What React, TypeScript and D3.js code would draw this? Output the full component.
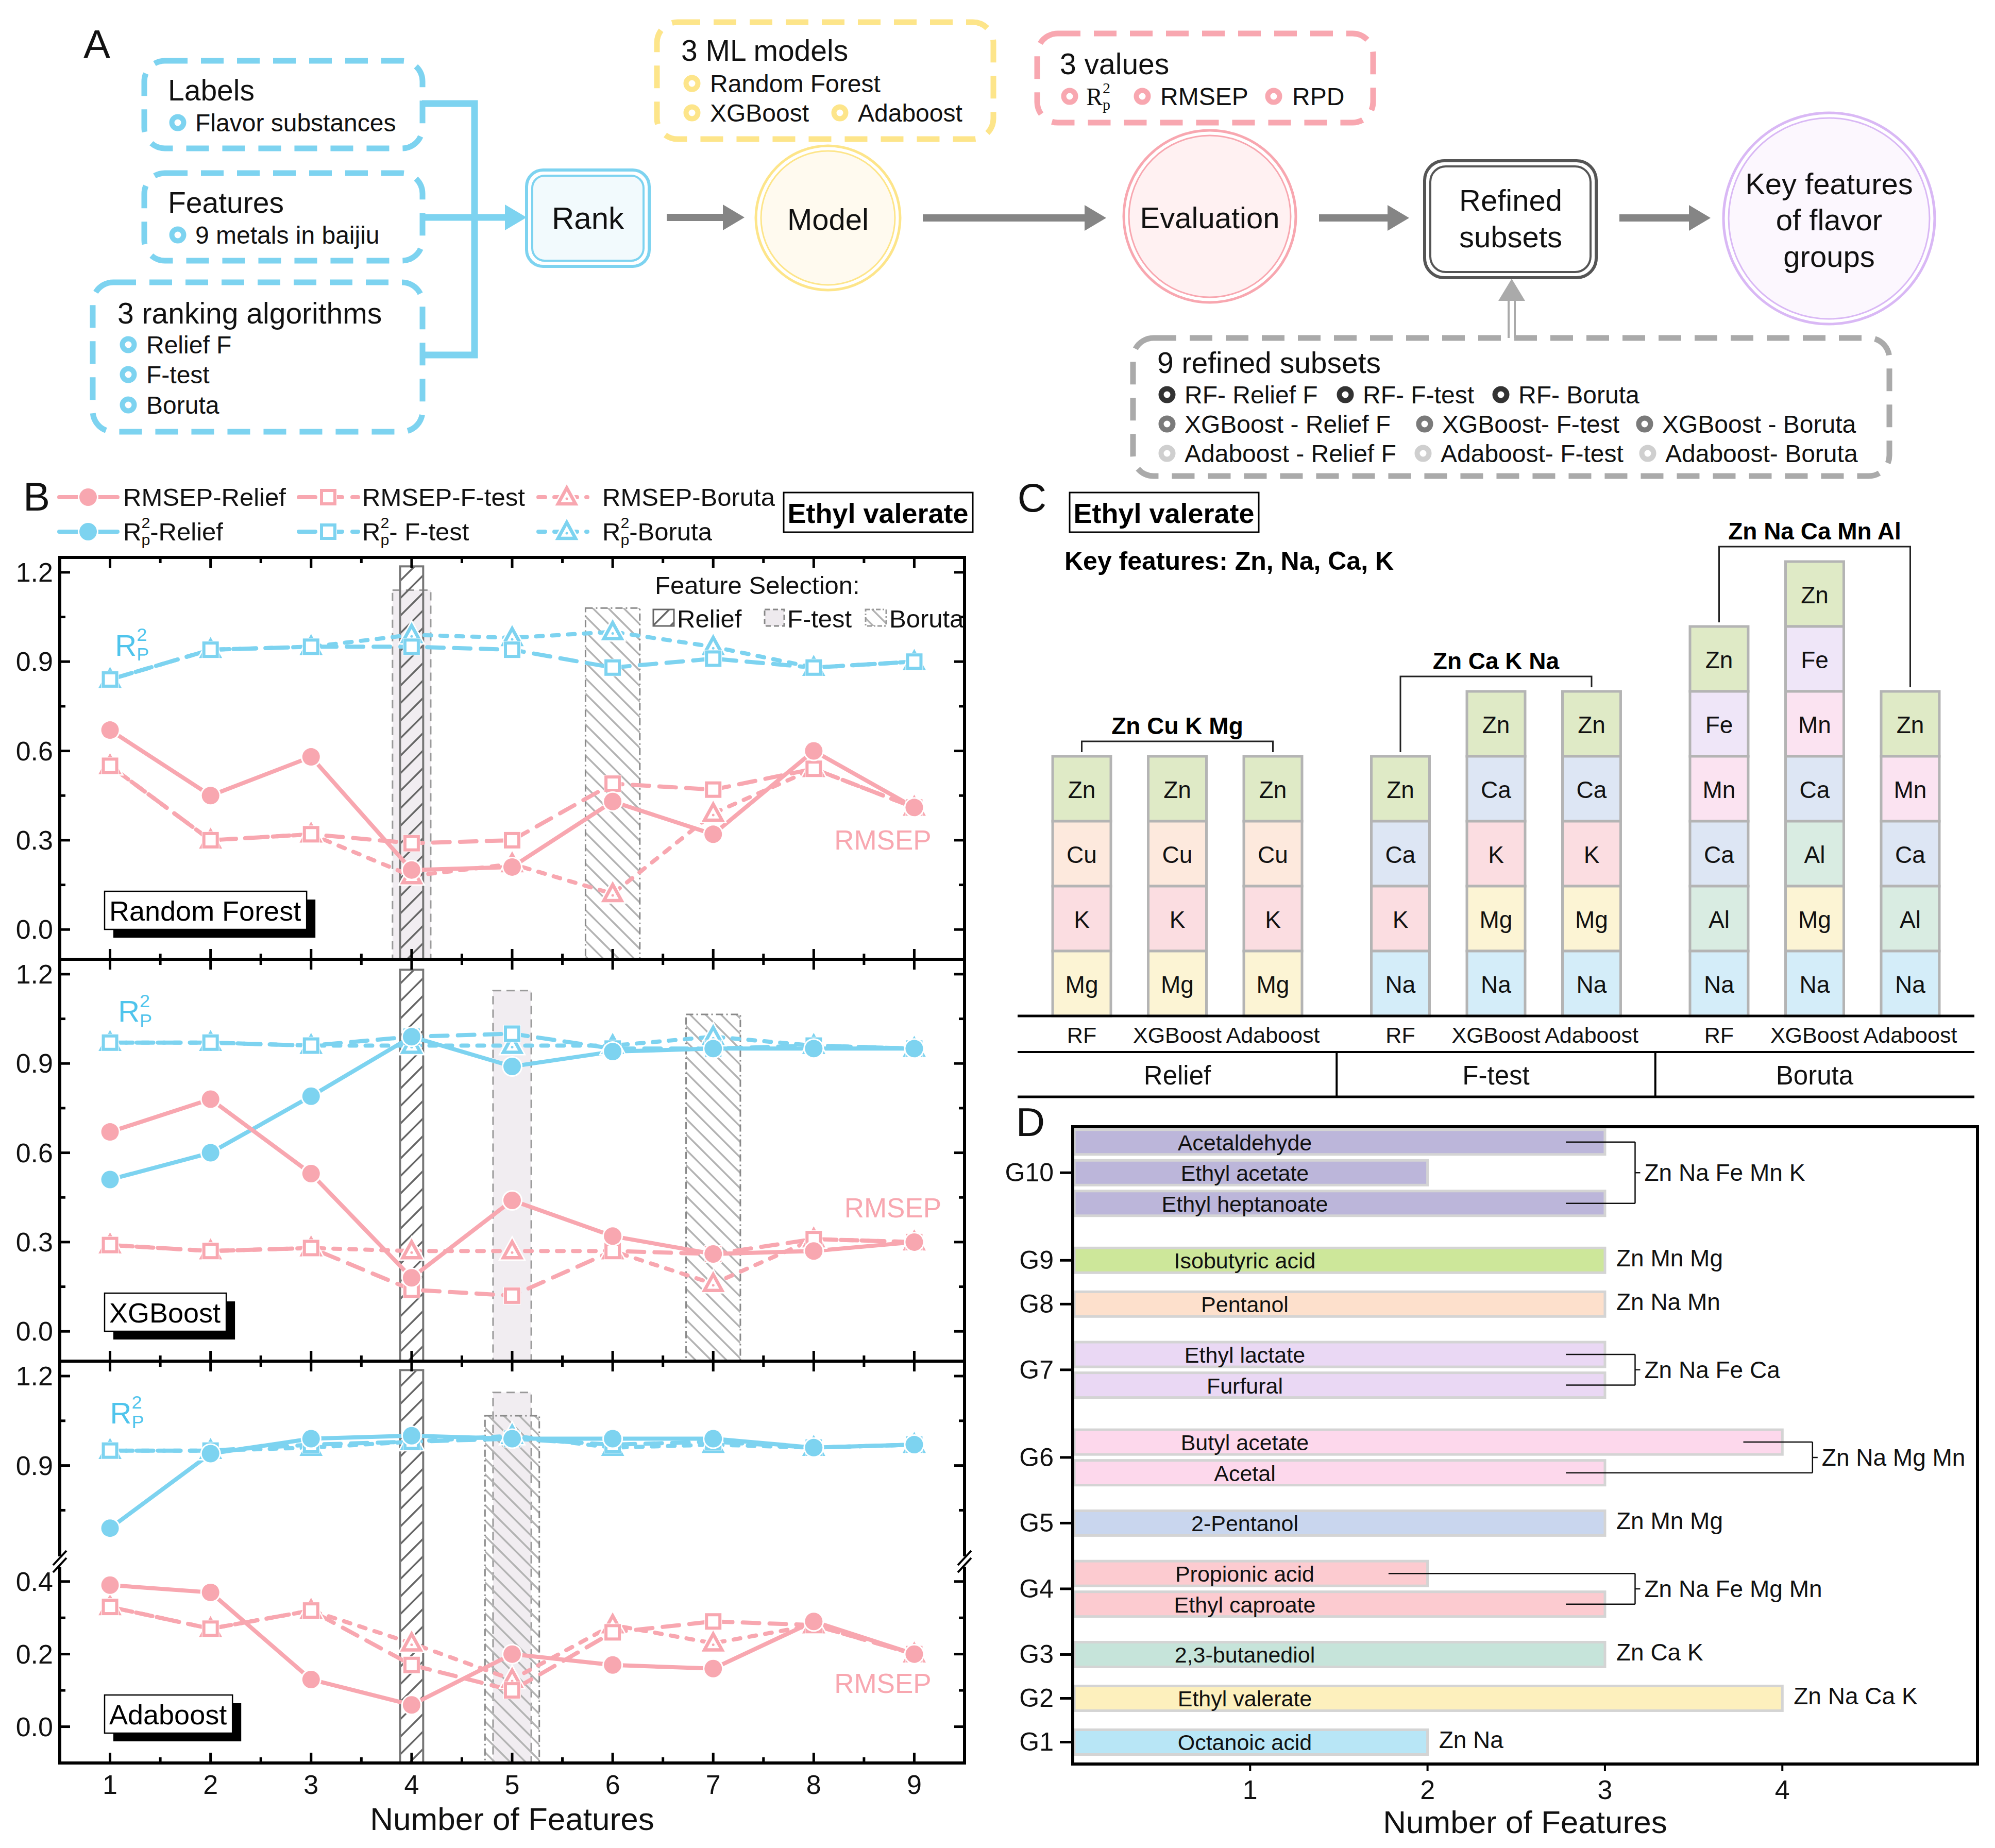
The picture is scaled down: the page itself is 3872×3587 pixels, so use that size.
import { useEffect, useRef } from "react";
import * as d3 from "d3";

const W = 3872;
const H = 3587;
const FONT = "'Liberation Sans', Arial, Helvetica, sans-serif";
const BLUE = "#7dd3f0";
const PINK = "#f8a7b0";
const LABEL_BLUE = "#4fc4ec";
const YELLOW = "#fde58a";
const PURPLE = "#d9b8f5";

// ── B: model performance vs. number of features ─────────────
const featureCounts = [1, 2, 3, 4, 5, 6, 7, 8, 9];
const modelNames = ["Random Forest", "XGBoost", "Adaboost"];
const rankers = ["Relief", "F-test", "Boruta"];

const rfRmsepRelief = [0.67, 0.45, 0.58, 0.2, 0.21, 0.43, 0.32, 0.6, 0.41];
const rfRmsepFtest = [0.55, 0.3, 0.32, 0.29, 0.3, 0.49, 0.47, 0.54, 0.41];
const rfRmsepBoruta = [0.55, 0.3, 0.32, 0.18, 0.22, 0.12, 0.39, 0.54, 0.41];
const rfR2Relief: number[] = []; // not drawn in the RF panel of the source
const rfR2Ftest = [0.84, 0.94, 0.95, 0.95, 0.94, 0.88, 0.91, 0.88, 0.9];
const rfR2Boruta = [0.84, 0.94, 0.95, 0.99, 0.98, 1.0, 0.95, 0.88, 0.9];

const xgbRmsepRelief = [0.67, 0.78, 0.53, 0.18, 0.44, 0.32, 0.26, 0.27, 0.3];
const xgbRmsepFtest = [0.29, 0.27, 0.28, 0.14, 0.12, 0.27, 0.26, 0.31, 0.3];
const xgbRmsepBoruta = [0.29, 0.27, 0.28, 0.27, 0.27, 0.27, 0.16, 0.31, 0.3];
const xgbR2Relief = [0.51, 0.6, 0.79, 0.99, 0.89, 0.94, 0.95, 0.95, 0.95];
const xgbR2Ftest = [0.97, 0.97, 0.96, 0.99, 1.0, 0.95, 0.95, 0.96, 0.95];
const xgbR2Boruta = [0.97, 0.97, 0.96, 0.96, 0.96, 0.96, 0.99, 0.96, 0.95];

const adaRmsepRelief = [0.39, 0.37, 0.13, 0.06, 0.2, 0.17, 0.16, 0.29, 0.2];
const adaRmsepFtest = [0.33, 0.27, 0.32, 0.17, 0.1, 0.26, 0.29, 0.28, 0.2];
const adaRmsepBoruta = [0.33, 0.27, 0.32, 0.23, 0.13, 0.28, 0.23, 0.28, 0.2];
const adaR2Relief = [0.69, 0.94, 0.99, 1.0, 0.99, 0.99, 0.99, 0.96, 0.97];
const adaR2Ftest = [0.95, 0.95, 0.97, 0.98, 0.99, 0.97, 0.98, 0.96, 0.97];
const adaR2Boruta = [0.95, 0.95, 0.96, 0.98, 1.0, 0.96, 0.97, 0.96, 0.97];

// subset size picked by each ranking (Relief, F-test, Boruta) + height of its band
const rfPicked = [4, 4, 6];
const xgbPicked = [4, 5, 7];
const adaPicked = [4, 5, 5];
const rfPickTop = [1.22, 1.14, 1.08];
const xgbPickTop = [1.215, 1.145, 1.065];
const adaPickTop = [1.22, 1.145, 1.067];

// ── C: refined subsets (listed top → bottom) ─────────────────
const modelShort = ["RF", "XGBoost", "Adaboost"];
const reliefSubsets = [["Zn", "Cu", "K", "Mg"], ["Zn", "Cu", "K", "Mg"], ["Zn", "Cu", "K", "Mg"]];
const ftestSubsets = [["Zn", "Ca", "K", "Na"], ["Zn", "Ca", "K", "Mg", "Na"], ["Zn", "Ca", "K", "Mg", "Na"]];
const borutaSubsets = [
  ["Zn", "Fe", "Mn", "Ca", "Al", "Na"],
  ["Zn", "Fe", "Mn", "Ca", "Al", "Mg", "Na"],
  ["Zn", "Mn", "Ca", "Al", "Na"],
];
const consensus = ["Zn Cu K Mg", "Zn Ca K Na", "Zn Na Ca Mn Al"];

// ── D: key features of flavour groups (G1 → G10) ─────────────
const groupNames = ["G1", "G2", "G3", "G4", "G5", "G6", "G7", "G8", "G9", "G10"];
const groupMembers = [
  ["Octanoic acid"],
  ["Ethyl valerate"],
  ["2,3-butanediol"],
  ["Propionic acid", "Ethyl caproate"],
  ["2-Pentanol"],
  ["Butyl acetate", "Acetal"],
  ["Ethyl lactate", "Furfural"],
  ["Pentanol"],
  ["Isobutyric acid"],
  ["Acetaldehyde", "Ethyl acetate", "Ethyl heptanoate"],
];
const groupCounts = [[2], [4], [3], [2, 3], [3], [4, 3], [3, 3], [3], [3], [3, 2, 3]];
const groupFeatures = [
  "Zn Na", "Zn Na Ca K", "Zn Ca K", "Zn Na Fe Mg Mn", "Zn Mn Mg",
  "Zn Na Mg Mn", "Zn Na Fe Ca", "Zn Na Mn", "Zn Mn Mg", "Zn Na Fe Mn K",
];

const elementColor: Record<string, string> = {
  Zn: "#dfeac6", Cu: "#fde9dd", K: "#fbdde1", Mg: "#fcf4d4", Ca: "#dde6f4",
  Na: "#d4edf9", Fe: "#efe6f8", Mn: "#fbe3f1", Al: "#d9ece2",
};
const groupColor = [
  "#b8e6f6", "#fdf0bd", "#c6e4da", "#fccbd0", "#c9d6ee",
  "#fdd8ec", "#ead8f4", "#fde0cc", "#cde79a", "#bcb6da",
];

type Sel = d3.Selection<any, unknown, null, undefined>;

function txt(g: Sel, x: number, y: number, s: string, size: number, anchor = "start", weight = "normal", fill = "#111") {
  return g.append("text")
    .attr("x", x).attr("y", y)
    .attr("font-size", size)
    .attr("text-anchor", anchor)
    .attr("dominant-baseline", "central")
    .attr("font-weight", weight)
    .attr("fill", fill)
    .text(s);
}

// R with stacked ² and subscript p
function r2(g: Sel, x: number, y: number, size: number, fill: string, sub: string, rest = "") {
  const t = g.append("text")
    .attr("x", x).attr("y", y)
    .attr("font-size", size)
    .attr("dominant-baseline", "central")
    .attr("fill", fill);
  const s = size * 0.62;
  t.append("tspan").text("R");
  t.append("tspan").attr("font-size", s).attr("dy", -size * 0.36).text("2");
  t.append("tspan").attr("font-size", s).attr("dx", -s * 0.556).attr("dy", size * 0.66).text(sub);
  if (rest) t.append("tspan").attr("dy", -size * 0.3).text(rest);
  return t;
}

function ring(g: Sel, x: number, y: number, color: string) {
  g.append("circle").attr("cx", x).attr("cy", y).attr("r", 11.5)
    .attr("fill", "none").attr("stroke", color).attr("stroke-width", 10);
}

function dashedBox(g: Sel, x: number, y: number, w: number, h: number, color: string) {
  g.append("rect").attr("x", x).attr("y", y).attr("width", w).attr("height", h)
    .attr("rx", 40).attr("fill", "none")
    .attr("stroke", color).attr("stroke-width", 11)
    .attr("stroke-dasharray", "44,26");
}

function greyArrow(g: Sel, x1: number, x2: number, y: number) {
  g.append("line").attr("x1", x1).attr("x2", x2 - 38).attr("y1", y).attr("y2", y)
    .attr("stroke", "#858585").attr("stroke-width", 14);
  g.append("path")
    .attr("d", `M${x2 - 42},${y - 25} L${x2},${y} L${x2 - 42},${y + 25} Z`)
    .attr("fill", "#858585");
}

function doubleCircle(g: Sel, cx: number, cy: number, r: number, color: string, fill: string) {
  g.append("circle").attr("cx", cx).attr("cy", cy).attr("r", r)
    .attr("fill", "none").attr("stroke", color).attr("stroke-width", 5);
  g.append("circle").attr("cx", cx).attr("cy", cy).attr("r", r - 10)
    .attr("fill", fill).attr("stroke", color).attr("stroke-width", 3);
}

function drawA(g: Sel) {
  txt(g, 188, 86, "A", 78, "middle");

  // inputs
  dashedBox(g, 280, 118, 540, 170, BLUE);
  txt(g, 326, 175, "Labels", 57);
  ring(g, 345, 238, BLUE);
  txt(g, 379, 238, "Flavor substances", 48);

  dashedBox(g, 280, 336, 540, 170, BLUE);
  txt(g, 326, 393, "Features", 57);
  ring(g, 345, 456, BLUE);
  txt(g, 379, 456, "9 metals in baijiu", 48);

  dashedBox(g, 180, 548, 640, 290, BLUE);
  txt(g, 228, 608, "3 ranking algorithms", 57);
  ["Relief F", "F-test", "Boruta"].forEach((s, i) => {
    const y = [669, 727, 786][i];
    ring(g, 249, y, BLUE);
    txt(g, 284, y, s, 48);
  });

  // bracket into Rank
  g.append("path")
    .attr("d", "M819,201 H921 V689 H819 M819,422 H990")
    .attr("fill", "none").attr("stroke", BLUE).attr("stroke-width", 13);
  g.append("path").attr("d", "M980,397 L1022,422 L980,447 Z").attr("fill", BLUE);

  // Rank box
  g.append("rect").attr("x", 1022).attr("y", 330).attr("width", 238).attr("height", 187).attr("rx", 32)
    .attr("fill", "none").attr("stroke", BLUE).attr("stroke-width", 6);
  g.append("rect").attr("x", 1033).attr("y", 341).attr("width", 216).attr("height", 165).attr("rx", 24)
    .attr("fill", "#f2fafd").attr("stroke", BLUE).attr("stroke-width", 4);
  txt(g, 1141, 423, "Rank", 60, "middle");

  greyArrow(g, 1294, 1445, 422);

  // Model
  dashedBox(g, 1275, 43, 653, 227, YELLOW);
  txt(g, 1322, 98, "3 ML models", 57);
  ring(g, 1343, 162, YELLOW);
  txt(g, 1378, 162, "Random Forest", 48);
  ring(g, 1343, 219, YELLOW);
  txt(g, 1378, 219, "XGBoost", 48);
  ring(g, 1630, 219, YELLOW);
  txt(g, 1665, 219, "Adaboost", 48);
  doubleCircle(g, 1607, 423, 140, YELLOW, "#fffaef");
  txt(g, 1607, 425, "Model", 58, "middle");

  greyArrow(g, 1791, 2147, 423);

  // Evaluation
  dashedBox(g, 2013, 65, 652, 173, PINK);
  txt(g, 2057, 124, "3 values", 57);
  ring(g, 2076, 187, PINK);
  const rp = g.append("text").attr("x", 2108).attr("y", 187).attr("font-size", 48)
    .attr("dominant-baseline", "central").attr("font-family", "'Liberation Serif', serif").attr("fill", "#111");
  rp.append("tspan").text("R");
  rp.append("tspan").attr("font-size", 30).attr("dy", -17).text("2");
  rp.append("tspan").attr("font-size", 30).attr("dx", -15).attr("dy", 32).text("p");
  ring(g, 2217, 187, PINK);
  txt(g, 2252, 187, "RMSEP", 48);
  ring(g, 2472, 187, PINK);
  txt(g, 2508, 187, "RPD", 48);
  doubleCircle(g, 2348, 420, 167, PINK, "#fff1f2");
  txt(g, 2348, 422, "Evaluation", 58, "middle");

  greyArrow(g, 2560, 2735, 423);

  // Refined subsets
  g.append("rect").attr("x", 2765).attr("y", 312).attr("width", 333).attr("height", 227).attr("rx", 38)
    .attr("fill", "none").attr("stroke", "#555").attr("stroke-width", 6);
  g.append("rect").attr("x", 2776).attr("y", 323).attr("width", 311).attr("height", 205).attr("rx", 30)
    .attr("fill", "#fff").attr("stroke", "#555").attr("stroke-width", 4);
  txt(g, 2932, 388, "Refined", 58, "middle");
  txt(g, 2932, 459, "subsets", 58, "middle");

  greyArrow(g, 3143, 3320, 423);

  doubleCircle(g, 3550, 424, 205, PURPLE, "#fcf7fe");
  txt(g, 3550, 356, "Key features", 58, "middle");
  txt(g, 3550, 426, "of flavor", 58, "middle");
  txt(g, 3550, 497, "groups", 58, "middle");

  // hollow upward arrow from the 9 subsets box
  g.append("path").attr("d", "M2928,656 V580 M2940,656 V580")
    .attr("stroke", "#aaa").attr("stroke-width", 4).attr("fill", "none");
  g.append("path").attr("d", "M2908,584 L2934,541 L2960,584 Z").attr("fill", "#aaa");

  dashedBox(g, 2199, 656, 1468, 268, "#aaa");
  txt(g, 2246, 704, "9 refined subsets", 57);
  const rows = [
    { c: "#333", items: [["RF- Relief F", 2265], ["RF- F-test", 2611], ["RF- Boruta", 2913]] },
    { c: "#7a7a7a", items: [["XGBoost - Relief F", 2265], ["XGBoost- F-test", 2765], ["XGBoost - Boruta", 3192]] },
    { c: "#cfcfcf", items: [["Adaboost - Relief F", 2265], ["Adaboost- F-test", 2762], ["Adaboost- Boruta", 3198]] },
  ];
  rows.forEach((row, i) => {
    const y = 766 + i * 57;
    row.items.forEach(([s, x]) => {
      ring(g, x as number, y, row.c);
      txt(g, (x as number) + 34, y, s as string, 48);
    });
  });
}

function marker(g: Sel, kind: number, x: number, y: number, color: string) {
  if (kind === 0) {
    g.append("circle").attr("cx", x).attr("cy", y).attr("r", 20).attr("fill", "#fff");
    g.append("circle").attr("cx", x).attr("cy", y).attr("r", 17).attr("fill", color);
  } else if (kind === 1) {
    g.append("rect").attr("x", x - 17).attr("y", y - 17).attr("width", 34).attr("height", 34).attr("fill", "#fff");
    g.append("rect").attr("x", x - 13).attr("y", y - 13).attr("width", 26).attr("height", 26)
      .attr("fill", "#fff").attr("stroke", color).attr("stroke-width", 6);
  } else {
    const d = `M${x},${y - 18} L${x + 17},${y + 13} L${x - 17},${y + 13} Z`;
    g.append("path").attr("d", d).attr("fill", "#fff").attr("stroke", "#fff").attr("stroke-width", 12);
    g.append("path").attr("d", d).attr("fill", "#fff").attr("stroke", color).attr("stroke-width", 6.5);
    g.append("circle").attr("cx", x).attr("cy", y + 3).attr("r", 2.5).attr("fill", color);
  }
}

const dashes = [null, "32,20", "13,18"];
const LW = 8;

function drawB(g: Sel, defs: Sel) {
  // hatch patterns
  const pr = defs.append("pattern").attr("id", "hatchRelief").attr("patternUnits", "userSpaceOnUse")
    .attr("width", 34).attr("height", 34);
  pr.append("path").attr("d", "M0,34 L34,0 M-8,8 L8,-8 M26,42 L42,26")
    .attr("stroke", "#666").attr("stroke-width", 3.5);
  const pb = defs.append("pattern").attr("id", "hatchBoruta").attr("patternUnits", "userSpaceOnUse")
    .attr("width", 30).attr("height", 30);
  pb.append("path").attr("d", "M0,0 L30,30 M-8,22 L8,38 M22,-8 L38,8")
    .attr("stroke", "#b3b3b3").attr("stroke-width", 3.5);

  txt(g, 71, 964, "B", 78, "middle");

  // legend
  const legX = [[115, 228, 171, 239], [580, 695, 637, 703], [1045, 1140, 1100, 1169]];
  [PINK, BLUE].forEach((color, row) => {
    const y = 965 + row * 67;
    rankers.forEach((r, k) => {
      const [x1, x2, xm, xt] = legX[k];
      const ln = g.append("line").attr("x1", x1).attr("x2", x2).attr("y1", y).attr("y2", y)
        .attr("stroke", color).attr("stroke-width", LW).attr("stroke-linecap", "round");
      if (dashes[k]) ln.attr("stroke-dasharray", dashes[k]!);
      marker(g, k, xm, y, color);
      if (row === 0) txt(g, xt, y, `RMSEP-${r}`, 49);
      else r2(g, xt, y, 49, "#111", "p", k === 1 ? "- F-test" : `-${r}`);
    });
  });
  g.append("rect").attr("x", 1521).attr("y", 956).attr("width", 367).attr("height", 77)
    .attr("fill", "#fff").attr("stroke", "#000").attr("stroke-width", 3);
  txt(g, 1704, 996, "Ethyl valerate", 54, "middle", "bold", "#000");

  const x = d3.scaleLinear().domain([0.5, 9.5]).range([116, 1872]);
  const panels = [
    { rmsep: [rfRmsepRelief, rfRmsepFtest, rfRmsepBoruta], r2v: [rfR2Relief, rfR2Ftest, rfR2Boruta], picked: rfPicked, top: rfPickTop },
    { rmsep: [xgbRmsepRelief, xgbRmsepFtest, xgbRmsepBoruta], r2v: [xgbR2Relief, xgbR2Ftest, xgbR2Boruta], picked: xgbPicked, top: xgbPickTop },
    { rmsep: [adaRmsepRelief, adaRmsepFtest, adaRmsepBoruta], r2v: [adaR2Relief, adaR2Ftest, adaR2Boruta], picked: adaPicked, top: adaPickTop },
  ];
  const r2Pos = [[1.05, 0.925], [1.08, 1.045], [1.0, 1.047]];
  const rmsepPos = [[9.17, 0.3], [9.27, 0.415], [9.17, 0.12]];
  const halfW = [0.115, 0.19, 0.27];
  const PH = 780;

  panels.forEach((p, i) => {
    const top = 1082 + i * PH;
    const bottom = top + PH;
    const brk = top + 389;
    const y = i < 2
      ? d3.scaleLinear().domain([-0.1, 1.25]).range([bottom, top])
      : d3.scaleLinear().domain([-0.1, 0.455, 0.578, 1.25]).range([bottom, brk, brk, top]);
    const major = i < 2 ? [0, 0.3, 0.6, 0.9, 1.2] : [0, 0.2, 0.4, 0.9, 1.2];
    const minor = i < 2 ? [0.15, 0.45, 0.75, 1.05] : [0.1, 0.3, 0.75, 1.05];
    const pg = g.append("g");

    // selection bands: F-test (light fill), Relief (/ hatch), Boruta (\ hatch)
    [1, 0, 2].forEach((k) => {
      const f = p.picked[k];
      const rect = pg.append("rect")
        .attr("x", x(f - halfW[k])).attr("width", x(f + halfW[k]) - x(f - halfW[k]))
        .attr("y", y(p.top[k])).attr("height", bottom - y(p.top[k]));
      if (k === 0) rect.attr("fill", "url(#hatchRelief)").attr("stroke", "#777").attr("stroke-width", 4);
      if (k === 1) rect.attr("fill", "#f1edf1").attr("stroke", "#9a9a9a").attr("stroke-width", 3).attr("stroke-dasharray", "16,10");
      if (k === 2) rect.attr("fill", "url(#hatchBoruta)").attr("stroke", "#8a8a8a").attr("stroke-width", 3).attr("stroke-dasharray", "14,6,3,6");
    });

    // lines then markers
    const line = d3.line<number>().x((_, j) => x(featureCounts[j])).y((v) => y(v));
    const series: { vals: number[]; k: number; color: string }[] = [];
    [2, 1, 0].forEach((k) => series.push({ vals: p.r2v[k], k, color: BLUE }));
    [2, 1, 0].forEach((k) => series.push({ vals: p.rmsep[k], k, color: PINK }));
    series.forEach((s) => {
      if (!s.vals.length) return;
      const path = pg.append("path").attr("d", line(s.vals)!).attr("fill", "none")
        .attr("stroke", s.color).attr("stroke-width", LW).attr("stroke-linecap", "round").attr("stroke-linejoin", "round");
      if (dashes[s.k]) path.attr("stroke-dasharray", dashes[s.k]!);
    });
    series.forEach((s) => s.vals.forEach((v, j) => marker(pg, s.k, x(featureCounts[j]), y(v), s.color)));

    // labels inside panel
    r2(pg, x(r2Pos[i][0]), y(r2Pos[i][1]) - 18, 58, LABEL_BLUE, "P");
    txt(pg, x(rmsepPos[i][0]), y(rmsepPos[i][1]), "RMSEP", 53, "end", "normal", PINK);

    // model name tag with shadow
    const tagY = top + 648;
    const sh = pg.append("rect").attr("x", 220).attr("y", tagY + 16).attr("height", 74).attr("fill", "#000");
    const bx = pg.append("rect").attr("x", 203).attr("y", tagY).attr("height", 74)
      .attr("fill", "#fff").attr("stroke", "#000").attr("stroke-width", 2.5);
    const t = txt(pg, 212, tagY + 38, modelNames[i], 54, "start", "normal", "#000");
    const tw = (t.node() as SVGTextElement).getComputedTextLength() || 370;
    bx.attr("width", tw + 20);
    sh.attr("width", tw + 20);

    // frame
    pg.append("rect").attr("x", 116).attr("y", top).attr("width", 1756).attr("height", PH)
      .attr("fill", "none").attr("stroke", "#000").attr("stroke-width", 6);

    // x ticks on top and bottom (inward)
    const xt = pg.append("g").attr("stroke", "#000").attr("stroke-width", 5);
    d3.range(1, 9.01, 0.5).forEach((v) => {
      const len = Number.isInteger(v) ? 20 : 11;
      xt.append("line").attr("x1", x(v)).attr("x2", x(v)).attr("y1", top).attr("y2", top + len);
      xt.append("line").attr("x1", x(v)).attr("x2", x(v)).attr("y1", bottom).attr("y2", bottom - len);
    });
    // y ticks left and right (inward)
    major.concat(minor).forEach((v) => {
      const len = major.includes(v) ? 20 : 11;
      xt.append("line").attr("x1", 116).attr("x2", 116 + len).attr("y1", y(v)).attr("y2", y(v));
      xt.append("line").attr("x1", 1872).attr("x2", 1872 - len).attr("y1", y(v)).attr("y2", y(v));
    });
    major.forEach((v) => txt(pg, 103, y(v), d3.format(".1f")(v), 52, "end"));

    if (i === 2) {
      // axis break marks
      [116, 1872].forEach((bxp) => {
        pg.append("rect").attr("x", bxp - 6).attr("y", brk - 10).attr("width", 12).attr("height", 20).attr("fill", "#fff");
        [-7, 7].forEach((o) => pg.append("line")
          .attr("x1", bxp - 13).attr("y1", brk + o + 14).attr("x2", bxp + 13).attr("y2", brk + o - 14)
          .attr("stroke", "#000").attr("stroke-width", 4));
      });
    }

    if (i === 0) {
      // feature selection key
      txt(pg, 1271, 1136, "Feature Selection:", 49);
      pg.append("rect").attr("x", 1268).attr("y", 1183).attr("width", 40).attr("height", 32)
        .attr("fill", "url(#hatchRelief)").attr("stroke", "#666").attr("stroke-width", 3);
      txt(pg, 1314, 1201, "Relief", 49);
      pg.append("rect").attr("x", 1484).attr("y", 1183).attr("width", 38).attr("height", 32)
        .attr("fill", "#eeeaee").attr("stroke", "#888").attr("stroke-width", 3).attr("stroke-dasharray", "10,6");
      txt(pg, 1528, 1201, "F-test", 49);
      pg.append("rect").attr("x", 1680).attr("y", 1183).attr("width", 40).attr("height", 32)
        .attr("fill", "url(#hatchBoruta)").attr("stroke", "#999").attr("stroke-width", 3).attr("stroke-dasharray", "9,4,3,4");
      txt(pg, 1726, 1201, "Boruta", 49);
    }
  });

  featureCounts.forEach((f) => txt(g, x(f), 3464, String(f), 52, "middle"));
  txt(g, 994, 3530, "Number of Features", 62, "middle");
}

function drawC(g: Sel) {
  txt(g, 2003, 966, "C", 78, "middle");
  g.append("rect").attr("x", 2076).attr("y", 956).attr("width", 367).attr("height", 77)
    .attr("fill", "#fff").attr("stroke", "#000").attr("stroke-width", 3);
  txt(g, 2259, 996, "Ethyl valerate", 54, "middle", "bold", "#000");
  txt(g, 2066, 1089, "Key features: Zn, Na, Ca, K", 50, "start", "bold", "#000");

  const outer = d3.scaleBand<string>().domain(rankers).range([1975, 3832]).paddingInner(0.2175).paddingOuter(0.11);
  const inner = d3.scaleBand<string>().domain(modelShort).range([0, outer.bandwidth()]).paddingInner(0.391).paddingOuter(0);
  const yC = d3.scaleLinear().domain([0, 1]).range([1972, 1846]);
  const subsets = [reliefSubsets, ftestSubsets, borutaSubsets];

  subsets.forEach((grp, gi) => {
    const ox = outer(rankers[gi])!;
    const tops: number[] = [];
    const centers: number[] = [];
    grp.forEach((stack, mi) => {
      const cx = ox + inner(modelShort[mi])!;
      const bw = inner.bandwidth();
      const n = stack.length;
      stack.forEach((el, si) => {
        const level = n - si; // top element sits highest
        const y0 = yC(level);
        g.append("rect").attr("x", cx).attr("y", y0).attr("width", bw).attr("height", yC(level - 1) - y0)
          .attr("fill", elementColor[el]).attr("stroke", "#b4b4b4").attr("stroke-width", 5);
        txt(g, cx + bw / 2, (y0 + yC(level - 1)) / 2 + 2, el, 46, "middle");
      });
      tops.push(yC(n));
      centers.push(cx + bw / 2);
      txt(g, cx + bw / 2, 2009, modelShort[mi], 43, "middle");
    });
    const by = Math.min(...tops) - 29;
    g.append("path")
      .attr("d", `M${centers[0]},${tops[0] - 8} V${by} H${centers[2]} V${tops[2] - 8}`)
      .attr("fill", "none").attr("stroke", "#222").attr("stroke-width", 3);
    txt(g, (centers[0] + centers[2]) / 2, by - 30, consensus[gi], 46, "middle", "bold", "#000");
    txt(g, ox + outer.bandwidth() / 2, 2087, rankers[gi], 51, "middle");
    if (gi > 0) {
      const sx = ox - (outer.step() - outer.bandwidth()) / 2;
      g.append("line").attr("x1", sx).attr("x2", sx).attr("y1", 2042).attr("y2", 2129)
        .attr("stroke", "#000").attr("stroke-width", 4);
    }
  });
  [[1972, 5], [2042, 4], [2129, 5]].forEach(([yy, sw]) =>
    g.append("line").attr("x1", 1975).attr("x2", 3832).attr("y1", yy).attr("y2", yy)
      .attr("stroke", "#000").attr("stroke-width", sw));
}

function drawD(g: Sel) {
  txt(g, 2000, 2178, "D", 78, "middle");
  const left = 2082, right = 3838, top = 2187, bottom = 3424;
  const x = d3.scaleLinear().domain([0, 5.1]).range([left, right]);
  // each group gets as many slots as it has members
  const totalSlots = d3.sum(groupMembers, (m) => m.length);
  const y = d3.scaleLinear().domain([0, totalSlots - 0.45]).range([bottom, top]);
  const step = 0.7;
  const barH = 48;

  let slot = 0;
  groupMembers.forEach((members, gi) => {
    const n = members.length;
    const center = slot + n / 2;
    slot += n;
    const ys = members.map((_, mi) => y(center + ((n - 1) / 2 - mi) * step));
    const vals = groupCounts[gi];
    members.forEach((m, mi) => {
      g.append("rect").attr("x", left + 3).attr("y", ys[mi] - barH / 2)
        .attr("width", x(vals[mi]) - left - 3).attr("height", barH)
        .attr("fill", groupColor[gi]).attr("stroke", "#d4d4d4").attr("stroke-width", 5);
      txt(g, x(0.97), ys[mi] + 1, m, 43, "middle");
    });
    const gy = y(center);
    if (n === 1) {
      txt(g, x(vals[0]) + 22, gy - 4, groupFeatures[gi], 46);
    } else {
      const xv = x(d3.max(vals)! + 0.17);
      const ends = [0, n - 1];
      const d = ends.map((mi) => `M${x(vals[mi] - 0.22)},${ys[mi]} H${xv}`).join(" ")
        + ` M${xv},${ys[0]} V${ys[n - 1]} M${xv},${gy} H${xv + 10}`;
      g.append("path").attr("d", d).attr("fill", "none").attr("stroke", "#111").attr("stroke-width", 2.5);
      txt(g, xv + 18, gy, groupFeatures[gi], 46);
    }
    g.append("line").attr("x1", left - 25).attr("x2", left).attr("y1", gy).attr("y2", gy)
      .attr("stroke", "#000").attr("stroke-width", 5);
    txt(g, left - 37, gy, groupNames[gi], 50, "end");
  });

  g.append("rect").attr("x", left).attr("y", top).attr("width", right - left).attr("height", bottom - top)
    .attr("fill", "none").attr("stroke", "#000").attr("stroke-width", 6);
  [1, 2, 3, 4].forEach((v) => {
    g.append("line").attr("x1", x(v)).attr("x2", x(v)).attr("y1", bottom).attr("y2", bottom + 14)
      .attr("stroke", "#000").attr("stroke-width", 4);
    txt(g, x(v), 3474, String(v), 52, "middle");
  });
  txt(g, (left + right) / 2, 3536, "Number of Features", 62, "middle");
}

export default function App() {
  const ref = useRef<SVGSVGElement>(null);

  useEffect(() => {
    document.body.style.margin = "0";
    if (!ref.current) return;
    const svg = d3.select(ref.current);
    svg.selectAll("*").remove();
    const defs = svg.append("defs");
    const root = svg.append("g").attr("font-family", FONT);
    drawA(root.append("g"));
    drawB(root.append("g"), defs);
    drawC(root.append("g"));
    drawD(root.append("g"));
  }, []);

  return (
    <svg
      ref={ref}
      width={W}
      height={H}
      viewBox={`0 0 ${W} ${H}`}
      style={{ display: "block", background: "#fff" }}
    />
  );
}
